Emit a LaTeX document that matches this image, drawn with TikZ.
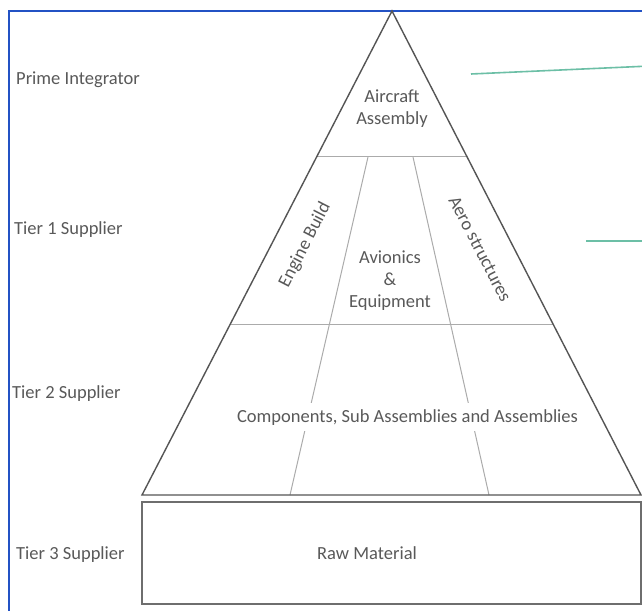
\documentclass[tikz,border=0pt]{standalone}
\usepackage{fontspec}
\setmainfont{Carlito}
\usetikzlibrary{calc}
\definecolor{txtgray}{HTML}{595959}
\definecolor{edgegray}{HTML}{555555}
\definecolor{divgray}{HTML}{ABABAB}
\definecolor{boxgray}{HTML}{6E6E6E}
\definecolor{framblue}{HTML}{2352C4}
\definecolor{leadgreen}{HTML}{6CBFA6}
\begin{document}
\begin{tikzpicture}[x=1pt,y=-1pt,
  every node/.style={font=\fontsize{18.5}{22}\selectfont, text=txtgray, inner sep=0pt},
  tierlabel/.style={anchor=base west},
  outline/.style={draw=edgegray, line width=1.4pt},
  divider/.style={draw=divgray, line width=1pt},
  leader/.style={draw=leadgreen, line width=1.6pt},
  frame/.style={draw=framblue, line width=1.8pt},
  rawbox/.style={draw=boxgray, line width=2.2pt}]
\useasboundingbox (0,0) rectangle (642,610);
\fill[white] (0,0) rectangle (642,610);

% outer frame
\draw[frame] (9,615) -- (9,11) -- (650,11);

% pyramid corners
\coordinate (apex) at (392,11);
\coordinate (bl) at (142,495);
\coordinate (br) at (641,495);
% band boundaries on the sides
\coordinate (l1) at ($(apex)!0.2996!(bl)$);
\coordinate (r1) at ($(apex)!0.2996!(br)$);
\coordinate (l2) at ($(apex)!0.6467!(bl)$);
\coordinate (r2) at ($(apex)!0.6467!(br)$);
% sector dividers
\coordinate (dlt) at (368,157);
\coordinate (dlb) at (290,495);
\coordinate (drt) at (413,157);
\coordinate (drb) at (489,495);

\draw[divider] (l1) -- (r1);
\draw[divider] (l2) -- (r2);
\draw[divider] (dlt) -- (dlb);
\draw[divider] (drt) -- (drb);
\draw[outline, line join=miter] (bl) -- (apex) -- (br) -- cycle;

% raw material block
\draw[rawbox] (142,502) rectangle (641,604);

% leader lines
\coordinate (g1a) at (471,74);
\coordinate (g1b) at (650,66);
\coordinate (g2a) at (586,241);
\coordinate (g2b) at (650,241);
\draw[leader] (g1a) -- (g1b);
\draw[leader] (g2a) -- (g2b);

% tier labels
\node[tierlabel] (prime) at (16,84) {Prime Integrator};
\node[tierlabel] (tier1) at (14,234) {Tier 1 Supplier};
\node[tierlabel] (tier2) at (12,398) {Tier 2 Supplier};
\node[tierlabel] (tier3) at (16,559) {Tier 3 Supplier};

% pyramid contents
\node[align=center] (aircraft) at (392,109) {Aircraft\\Assembly};
\node[rotate=62.7] (engine) at (305,245) {Engine Build};
\node[align=center] (avionics) at (390,281) {Avionics\\\&\\Equipment};
\node[rotate=-62.7] (aero) at (480,249) {Aero structures};
\node[anchor=base, fill=white, inner xsep=2pt, inner ysep=6pt] (comp) at (407.5,422) {Components, Sub Assemblies and Assemblies};
\node[anchor=base] (raw) at (367,559) {Raw Material};
\end{tikzpicture}
\end{document}
